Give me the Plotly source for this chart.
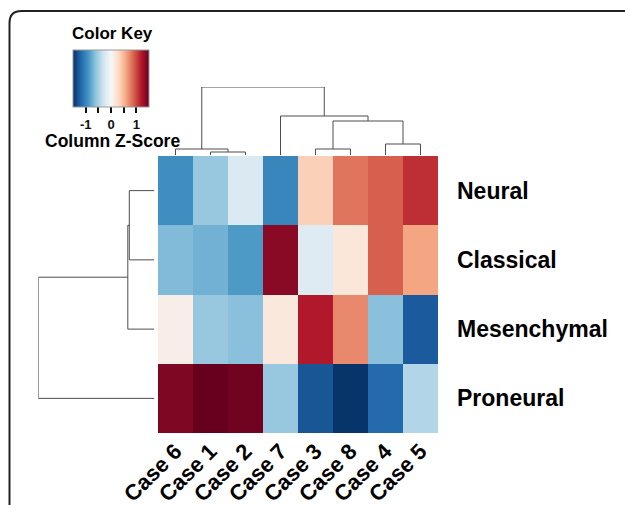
import plotly.graph_objects as go

# ---------------- data ----------------
cases = ["Case 6", "Case 1", "Case 2", "Case 7", "Case 3", "Case 8", "Case 4", "Case 5"]
subtypes = ["Neural", "Classical", "Mesenchymal", "Proneural"]

neural      = [-0.93, -0.57, -0.22, -0.99,  0.36,  0.81,  0.90,  1.11]
classical   = [-0.66, -0.72, -0.86,  1.37, -0.20,  0.18,  0.90,  0.60]
mesenchymal = [ 0.10, -0.57, -0.63,  0.16,  1.20,  0.72, -0.63, -1.26]
proneural   = [ 1.41,  1.50,  1.46, -0.57, -1.29, -1.47, -1.17, -0.45]

# column dendrogram merges (left id, right id, height); leaves 0..7 in display order
col_merges = [(1, 2, 3), (0, 8, 6), (4, 5, 6), (6, 7, 11), (10, 11, 34), (3, 12, 39), (9, 13, 68)]
# row dendrogram merges; leaves 0..3 in display order
row_merges = [(0, 1, 25), (4, 2, 26.5), (5, 3, 116)]

key_ticks = [-1, -0.5, 0, 0.5, 1]
key_ticktext = ["-1", "", "0", "", "1"]

rdbu = ["#053061", "#2166AC", "#4393C3", "#92C5DE", "#D1E5F0", "#F7F7F7",
        "#FDDBC7", "#F4A582", "#D6604D", "#B2182B", "#67001F"]

# ---------------- helpers ----------------
W, H = 625, 505
def fx(px):
    return px / W
def fy(py):
    return 1 - py / H

FONT = "Liberation Sans, Arial, sans-serif"


def dendro_segments(merges, n_leaves):
    pos = {i: float(i) for i in range(n_leaves)}
    hgt = {i: 0.0 for i in range(n_leaves)}
    xs, hs = [], []
    nid = n_leaves
    for a, b, h in merges:
        xs += [pos[a], pos[a], pos[b], pos[b], None]
        hs += [hgt[a], h, h, hgt[b], None]
        pos[nid] = (pos[a] + pos[b]) / 2
        hgt[nid] = h
        nid += 1
    return xs, hs


z = [neural, classical, mesenchymal, proneural]
colorscale = [[i / (len(rdbu) - 1), c] for i, c in enumerate(rdbu)]

fig = go.Figure()

fig.add_trace(go.Heatmap(
    z=z, x=list(range(len(cases))), y=list(range(len(subtypes))),
    colorscale=colorscale, zmin=-1.5, zmax=1.5,
    xaxis="x", yaxis="y", hoverinfo="skip",
    colorbar=dict(
        orientation="h", x=fx(111), xanchor="center", y=fy(50), yanchor="top",
        len=76, lenmode="pixels", thickness=57, thicknessmode="pixels",
        xpad=0, ypad=0, outlinewidth=1, outlinecolor="#999999",
        ticks="outside", ticklen=6, tickwidth=1.5, tickcolor="#111111",
        tickvals=key_ticks, ticktext=key_ticktext,
        tickfont=dict(family=FONT, size=13, color="#111111", weight="bold"),
    ),
))

cx, ch = dendro_segments(col_merges, len(cases))
fig.add_trace(go.Scatter(x=cx, y=ch, mode="lines", xaxis="x2", yaxis="y2",
                         line=dict(color="#4d4d4d", width=1), hoverinfo="skip",
                         cliponaxis=False, showlegend=False))

ry, rh = dendro_segments(row_merges, len(subtypes))
fig.add_trace(go.Scatter(x=rh, y=ry, mode="lines", xaxis="x3", yaxis="y3",
                         line=dict(color="#4d4d4d", width=1), hoverinfo="skip",
                         cliponaxis=False, showlegend=False))

hm_x = [fx(158), fx(438)]
hm_y = [fy(433), fy(156)]
hidden = dict(showgrid=False, zeroline=False, showline=False, showticklabels=False, ticks="")

fig.update_layout(
    width=W, height=H,
    margin=dict(l=0, r=0, t=0, b=0, pad=0, autoexpand=False),
    paper_bgcolor="white", plot_bgcolor="white",
    showlegend=False,
    xaxis=dict(domain=hm_x, range=[-0.5, 7.5], anchor="y", automargin=False,
               tickvals=list(range(len(cases))), ticktext=cases, tickangle=-45,
               showgrid=False, zeroline=False, showline=False, ticks="",
               ticklabelstandoff=0,
               tickfont=dict(family=FONT, size=22, color="#000000", weight="bold")),
    yaxis=dict(domain=hm_y, range=[3.5, -0.5], anchor="x", side="right", automargin=False,
               tickvals=list(range(len(subtypes))), ticktext=subtypes,
               showgrid=False, zeroline=False, showline=False, ticks="",
               ticklabelstandoff=18,
               tickfont=dict(family=FONT, size=23, color="#000000", weight="bold")),
    xaxis2=dict(domain=hm_x, range=[-0.5, 7.5], anchor="y2", **hidden),
    yaxis2=dict(domain=[fy(155), fy(87)], range=[0, 68], anchor="x2", **hidden),
    xaxis3=dict(domain=[fx(38.3), fx(154.3)], range=[116, 0], anchor="y3", **hidden),
    yaxis3=dict(domain=hm_y, range=[3.5, -0.5], anchor="x3", **hidden),
    annotations=[
        dict(text="Color Key", x=fx(112), y=fy(33), xref="paper", yref="paper",
             showarrow=False, xanchor="center", yanchor="middle",
             font=dict(family=FONT, size=17, color="#000000", weight="bold")),
        dict(text="Column Z-Score", x=fx(113), y=fy(141), xref="paper", yref="paper",
             showarrow=False, xanchor="center", yanchor="middle",
             font=dict(family=FONT, size=17.5, color="#000000", weight="bold")),
    ],
    shapes=[
        dict(type="path", xref="paper", yref="paper",
             path=(f"M {fx(9.5)},{fy(506)} L {fx(9.5)},{fy(23)} "
                   f"Q {fx(9.5)},{fy(11)} {fx(21.5)},{fy(11)} L {fx(626)},{fy(11)}"),
             line=dict(color="#222222", width=2)),
    ],
)

fig.write_html("out.html", config={"displayModeBar": False},
               post_script="document.body.style.margin='0';")
